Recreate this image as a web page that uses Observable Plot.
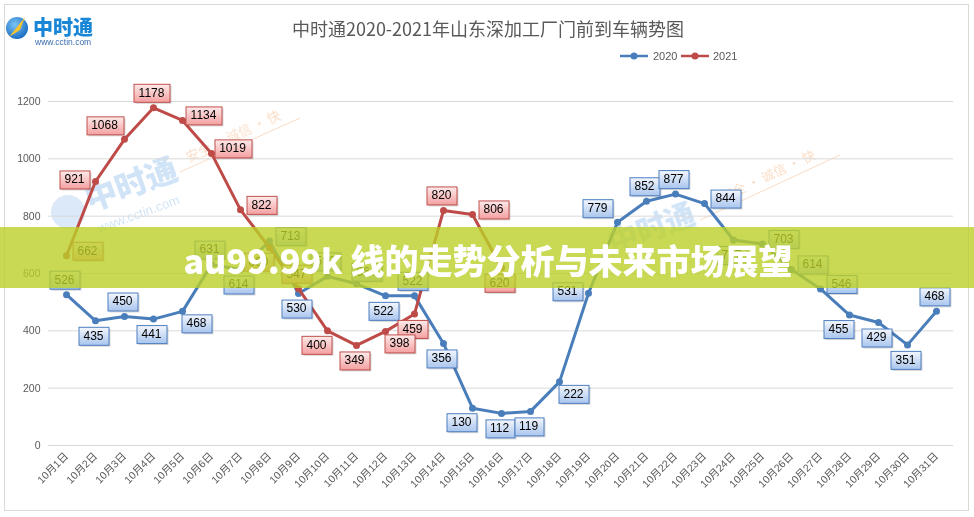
<!DOCTYPE html>
<html><head><meta charset="utf-8">
<script src="https://cdn.jsdelivr.net/npm/d3@7"></script>
<script src="https://cdn.jsdelivr.net/npm/@observablehq/plot@0.6"></script>
<style>
body{margin:0;background:#fff;}
#wrap{position:relative;width:974px;height:517px;overflow:hidden;font-family:"Liberation Sans","Noto Sans CJK SC",sans-serif;background:#fff;}
#frame{position:absolute;left:4px;top:4px;width:963px;height:505px;border:1px solid #d9d9d9;z-index:0;}
#wm{position:absolute;left:0;top:0;width:974px;height:517px;z-index:0;pointer-events:none;}
#chart{position:absolute;left:0;top:0;z-index:1;}
#title{position:absolute;left:0;top:15px;width:974px;text-align:center;font-size:18px;color:#595959;font-family:"Noto Sans CJK SC",sans-serif;z-index:2;padding-left:2px;box-sizing:border-box;}
#legend{position:absolute;left:618px;top:48px;z-index:2;font-size:11px;color:#595959;}
#logo{position:absolute;left:5px;top:12px;z-index:2;}
#banner{position:absolute;left:0;top:227px;width:974px;height:61px;background:rgba(188,208,40,0.8);z-index:3;color:#fff;font-family:"Noto Sans CJK SC",sans-serif;font-weight:900;font-size:34px;line-height:61px;text-align:center;white-space:nowrap;}
#banner span{position:relative;top:2px;left:1px;}
</style></head><body>
<div id="wrap">
  <div id="frame"></div>
  <svg id="wm" width="974" height="517">
    <g opacity="0.22">
      <circle cx="68" cy="212" r="17" fill="#5b9be0"/>
      <text x="0" y="0" transform="translate(135,195) rotate(-20)" text-anchor="middle" font-family="Noto Sans CJK SC" font-weight="900" font-size="32" fill="#2f86d8">中时通</text>
      <text x="0" y="0" transform="translate(140,218) rotate(-20)" text-anchor="middle" font-family="Liberation Sans" font-size="13" fill="#2f86d8">www.cctin.com</text>
      <text x="0" y="0" transform="translate(655,238) rotate(-20)" text-anchor="middle" font-family="Noto Sans CJK SC" font-weight="900" font-size="30" fill="#2f86d8">中时通</text>
    </g>
    <g opacity="0.3" font-family="Noto Sans CJK SC" font-size="13" fill="#f08a3c">
      <text transform="translate(235,140) rotate(-25)" text-anchor="middle">安全 · 诚信 · 快</text>
      <text transform="translate(770,180) rotate(-25)" text-anchor="middle">安全 · 诚信 · 快</text>
      <line x1="180" y1="172" x2="300" y2="118" stroke="#f08a3c" stroke-width="1"/>
      <line x1="700" y1="220" x2="840" y2="155" stroke="#f08a3c" stroke-width="1"/>
    </g>
  </svg>
  <div id="logo">
    <svg width="140" height="40">
      <defs><radialGradient id="lg" cx="40%" cy="35%" r="70%"><stop offset="0" stop-color="#7cc4f5"/><stop offset="1" stop-color="#1468c0"/></radialGradient></defs>
      <circle cx="12" cy="16" r="11" fill="url(#lg)"/>
      <path d="M4,25 L20,5 L15,18 Z" fill="#f6c431"/>
      <text x="28" y="23" font-family="Noto Sans CJK SC" font-weight="900" font-size="20" fill="#1a86d6">中时通</text>
      <text x="30" y="33" font-family="Liberation Sans" font-size="8.5" fill="#3b6fae">www.cctin.com</text>
    </svg>
  </div>
  <div id="title">中时通2020-2021年山东深加工厂门前到车辆势图</div>
  <div id="legend">
    <svg width="130" height="16">
      <line x1="2" y1="8" x2="30" y2="8" stroke="#4a7ebb" stroke-width="2.5"/><circle cx="16" cy="8" r="3.5" fill="#4a7ebb"/>
      <text x="35" y="12" font-size="11" fill="#595959" font-family="Liberation Sans">2020</text>
      <line x1="63" y1="8" x2="91" y2="8" stroke="#be4b48" stroke-width="2.5"/><circle cx="77" cy="8" r="3.5" fill="#be4b48"/>
      <text x="95" y="12" font-size="11" fill="#595959" font-family="Liberation Sans">2021</text>
    </svg>
  </div>
  <div id="banner"><span>au99.99k 线的走势分析与未来市场展望</span></div>
</div>
<script>
const days = ["10月1日","10月2日","10月3日","10月4日","10月5日","10月6日","10月7日","10月8日","10月9日","10月10日",
  "10月11日","10月12日","10月13日","10月14日","10月15日","10月16日","10月17日","10月18日","10月19日","10月20日",
  "10月21日","10月22日","10月23日","10月24日","10月25日","10月26日","10月27日","10月28日","10月29日","10月30日","10月31日"];
const cars2020 = [526,435,450,441,468,631,614,713,530,590,564,522,522,356,130,112,119,222,531,779,852,877,844,717,703,614,546,455,429,351,468];
const cars2021 = [662,921,1068,1178,1134,1019,822,690,547,400,349,398,459,820,806,620];
// label placement codes (a=above, b=below, r=right, l=left, ...)
const place2020 = ["a","b","a","b","br","a","b","r","b","a","ar","b","a","b","bl","b","b","br","l","al","a","a","r","b","r","r","r","bl","b","b","a"];
const place2021 = ["r","l","al","a","r","r","r","bl","a","bl","b","br","b","a","r","b"];
const seriesNames = ["2020","2021"];
const seriesColors = ["#4a7ebb","#be4b48"];
const labelInk = ["#000000","#010101"];

const offsets = {a:[-2,-15], b:[-2,15], r:[21,-5], l:[-21,-2], ar:[10,-12], br:[14,12], bl:[-11,14], al:[-20,-14]};

const rows2020 = days.map((d,i)=>({day:d, value:cars2020[i], place:place2020[i]}));
const rows2021 = cars2021.map((v,i)=>({day:days[i], value:v, place:place2021[i]}));

const labelMarks = [];
for (const [code,[dx,dy]] of Object.entries(offsets)) {
  labelMarks.push(Plot.text(rows2020.filter(r=>r.place===code), {x:"day", y:"value", text:d=>String(d.value), dx, dy, fill:labelInk[0], fontSize:12}));
  labelMarks.push(Plot.text(rows2021.filter(r=>r.place===code), {x:"day", y:"value", text:d=>String(d.value), dx, dy, fill:labelInk[1], fontSize:12}));
}

const chart = Plot.plot({
  width:974, height:517,
  marginTop:101, marginBottom:72, marginLeft:48, marginRight:21,
  style:{background:"transparent", color:"#595959", fontSize:"10.5px", fontFamily:'"Liberation Sans","Noto Sans CJK SC",sans-serif'},
  x:{type:"point", domain:days, padding:0.5, tickSize:0, tickPadding:9, tickRotate:-45, label:null},
  y:{domain:[0,1200], ticks:6, tickSize:0, tickPadding:8, label:null, tickFormat:d=>String(d)},
  marks:[
    Plot.ruleY(d3.range(0,1201,200), {stroke:"#d9d9d9", strokeWidth:1}),
    Plot.line(rows2020, {x:"day", y:"value", stroke:seriesColors[0], strokeWidth:3}),
    Plot.dot(rows2020, {x:"day", y:"value", fill:seriesColors[0], r:3.5}),
    Plot.line(rows2021, {x:"day", y:"value", stroke:seriesColors[1], strokeWidth:3}),
    Plot.dot(rows2021, {x:"day", y:"value", fill:seriesColors[1], r:3.5}),
    ...labelMarks
  ]
});
chart.id = "chart";
document.getElementById("wrap").insertBefore(chart, document.getElementById("title"));

const svg = d3.select(chart);
const defs = svg.insert("defs", ":first-child");
function grad(id, c0, c1){
  const g = defs.append("linearGradient").attr("id", id).attr("x1",0).attr("y1",0).attr("x2",0).attr("y2",1);
  g.append("stop").attr("offset",0).attr("stop-color",c0);
  g.append("stop").attr("offset",1).attr("stop-color",c1);
}
grad("gBlue", "#f3f7fd", "#a9c5ee");
grad("gRed", "#fdeaea", "#f4a0a0");

function findFill(el){
  let n = el;
  while (n && n !== chart) { const f = n.getAttribute && n.getAttribute("fill"); if (f) return f.toLowerCase(); n = n.parentNode; }
  return null;
}
svg.selectAll("text").each(function(){
  const f = findFill(this);
  let fillId, strokeColor;
  if (f === labelInk[0]) { fillId = "gBlue"; strokeColor = "#4f7fc0"; }
  else if (f === labelInk[1]) { fillId = "gRed"; strokeColor = "#c0504d"; }
  else return;
  const b = this.getBBox();
  const t = this.getAttribute("transform");
  const cx = b.x + b.width / 2, cy = b.y + b.height / 2;
  const w = Math.round(b.width + 10), h = 18;
  const x = Math.round(cx - w / 2) + 0.5, y = Math.round(cy - h / 2) + 0.5;
  const parent = d3.select(this.parentNode);
  const sh = parent.insert("rect", ()=>this)
    .attr("x", x+1.5).attr("y", y+1.5).attr("width", w).attr("height", h).attr("fill","rgba(0,0,0,0.16)").attr("stroke","none");
  const r = parent.insert("rect", ()=>this)
    .attr("x", x).attr("y", y).attr("width", w).attr("height", h)
    .attr("fill", `url(#${fillId})`).attr("stroke", strokeColor).attr("stroke-width", 1);
  if (t) { sh.attr("transform", t); r.attr("transform", t); }
});
</script>
</body></html>
